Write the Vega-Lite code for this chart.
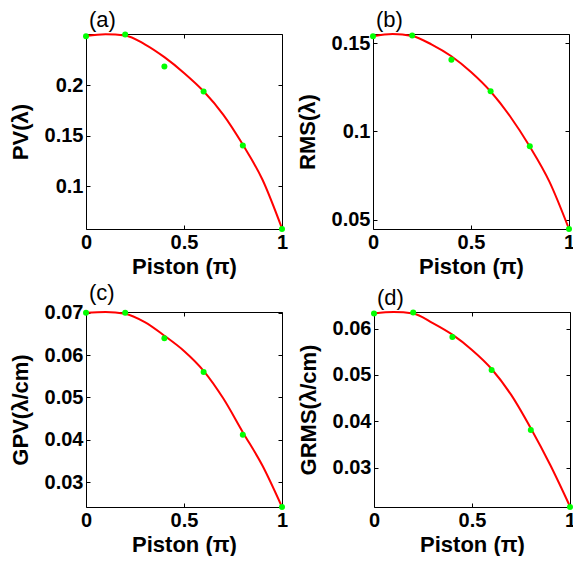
{
  "$schema": "https://vega.github.io/schema/vega-lite/v6.json",
  "padding": {"left": 9, "top": 9, "right": 0, "bottom": 0},
  "background": "white",
  "datasets": {
    "ca": [{"p":0,"v":0.2487},{"p":0.1,"v":0.2505},{"p":0.2,"v":0.2493},{"p":0.3,"v":0.2405},{"p":0.4,"v":0.2278},{"p":0.5,"v":0.2122},{"p":0.6,"v":0.1941},{"p":0.7,"v":0.1711},{"p":0.8,"v":0.1414},{"p":0.9,"v":0.1069},{"p":1,"v":0.0585}],
    "pa": [{"p":0,"v":0.2484},{"p":0.2,"v":0.2503},{"p":0.4,"v":0.2186},{"p":0.6,"v":0.194},{"p":0.8,"v":0.1405},{"p":1,"v":0.058}],
    "cb": [{"p":0,"v":0.1538},{"p":0.1,"v":0.1551},{"p":0.2,"v":0.154},{"p":0.3,"v":0.1491},{"p":0.4,"v":0.1425},{"p":0.5,"v":0.1336},{"p":0.6,"v":0.1226},{"p":0.7,"v":0.1085},{"p":0.8,"v":0.0915},{"p":0.9,"v":0.0717},{"p":1,"v":0.0449}],
    "pb": [{"p":0,"v":0.1538},{"p":0.2,"v":0.1543},{"p":0.4,"v":0.1406},{"p":0.6,"v":0.1228},{"p":0.8,"v":0.0917},{"p":1,"v":0.0449}],
    "cc": [{"p":0,"v":0.07},{"p":0.1,"v":0.0702},{"p":0.2,"v":0.0698},{"p":0.3,"v":0.0678},{"p":0.4,"v":0.0646},{"p":0.5,"v":0.061},{"p":0.6,"v":0.0563},{"p":0.7,"v":0.0498},{"p":0.8,"v":0.0418},{"p":0.9,"v":0.0339},{"p":1,"v":0.0241}],
    "pc": [{"p":0,"v":0.07},{"p":0.2,"v":0.07},{"p":0.4,"v":0.064},{"p":0.6,"v":0.056},{"p":0.8,"v":0.0412},{"p":1,"v":0.0241}],
    "cd": [{"p":0,"v":0.0633},{"p":0.1,"v":0.0636},{"p":0.2,"v":0.0633},{"p":0.3,"v":0.0612},{"p":0.4,"v":0.0587},{"p":0.5,"v":0.0554},{"p":0.6,"v":0.0513},{"p":0.7,"v":0.0457},{"p":0.8,"v":0.0385},{"p":0.9,"v":0.0305},{"p":1,"v":0.0216}],
    "pd": [{"p":0,"v":0.0633},{"p":0.2,"v":0.0635},{"p":0.4,"v":0.0582},{"p":0.6,"v":0.0511},{"p":0.8,"v":0.0381},{"p":1,"v":0.0215}]
  },
  "spacing": 3,
  "vconcat": [
    {
      "spacing": 8,
      "hconcat": [
        {
          "width": 196, "height": 195,
          "title": {"text": "(a)"},
          "layer": [
            {"data": {"name": "ca"}, "mark": {"type": "line", "color": "#ff0000", "strokeWidth": 2, "interpolate": "monotone"},
             "encoding": {
               "x": {"field": "p", "type": "quantitative", "scale": {"domain": [0, 1], "nice": false, "zero": false}, "axis": {"orient": "bottom", "values": [0, 0.5, 1], "format": ".1~f", "title": "Piston (π)"}},
               "y": {"field": "v", "type": "quantitative", "scale": {"domain": [0.058, 0.2507], "nice": false, "zero": false}, "axis": {"orient": "left", "values": [0.1, 0.15, 0.2], "format": ".2~f", "title": "PV(λ)"}}}},
            {"data": {"name": "pa"}, "mark": {"type": "point", "filled": true, "color": "#00ff00", "size": 36, "opacity": 1},
             "encoding": {
               "x": {"field": "p", "type": "quantitative", "axis": {"orient": "top", "values": [0, 0.5, 1], "labels": false, "title": null}},
               "y": {"field": "v", "type": "quantitative", "axis": {"orient": "right", "values": [0.1, 0.15, 0.2], "labels": false, "title": null}}}}
          ],
          "resolve": {"axis": {"x": "independent", "y": "independent"}}
        },
        {
          "width": 196, "height": 195,
          "title": {"text": "(b)"},
          "layer": [
            {"data": {"name": "cb"}, "mark": {"type": "line", "color": "#ff0000", "strokeWidth": 2, "interpolate": "monotone"},
             "encoding": {
               "x": {"field": "p", "type": "quantitative", "scale": {"domain": [0, 1], "nice": false, "zero": false}, "axis": {"orient": "bottom", "values": [0, 0.5, 1], "format": ".1~f", "title": "Piston (π)"}},
               "y": {"field": "v", "type": "quantitative", "scale": {"domain": [0.0449, 0.1551], "nice": false, "zero": false}, "axis": {"orient": "left", "values": [0.05, 0.1, 0.15], "format": ".2~f", "title": "RMS(λ)"}}}},
            {"data": {"name": "pb"}, "mark": {"type": "point", "filled": true, "color": "#00ff00", "size": 36, "opacity": 1},
             "encoding": {
               "x": {"field": "p", "type": "quantitative", "axis": {"orient": "top", "values": [0, 0.5, 1], "labels": false, "title": null}},
               "y": {"field": "v", "type": "quantitative", "axis": {"orient": "right", "values": [0.05, 0.1, 0.15], "labels": false, "title": null}}}}
          ],
          "resolve": {"axis": {"x": "independent", "y": "independent"}}
        }
      ]
    },
    {
      "spacing": 8,
      "hconcat": [
        {
          "width": 196, "height": 195,
          "title": {"text": "(c)"},
          "layer": [
            {"data": {"name": "cc"}, "mark": {"type": "line", "color": "#ff0000", "strokeWidth": 2, "interpolate": "monotone"},
             "encoding": {
               "x": {"field": "p", "type": "quantitative", "scale": {"domain": [0, 1], "nice": false, "zero": false}, "axis": {"orient": "bottom", "values": [0, 0.5, 1], "format": ".1~f", "title": "Piston (π)"}},
               "y": {"field": "v", "type": "quantitative", "scale": {"domain": [0.0241, 0.0702], "nice": false, "zero": false}, "axis": {"orient": "left", "values": [0.03, 0.04, 0.05, 0.06, 0.07], "format": ".2f", "title": "GPV(λ/cm)"}}}},
            {"data": {"name": "pc"}, "mark": {"type": "point", "filled": true, "color": "#00ff00", "size": 36, "opacity": 1},
             "encoding": {
               "x": {"field": "p", "type": "quantitative", "axis": {"orient": "top", "values": [0, 0.5, 1], "labels": false, "title": null}},
               "y": {"field": "v", "type": "quantitative", "axis": {"orient": "right", "values": [0.03, 0.04, 0.05, 0.06, 0.07], "labels": false, "title": null}}}}
          ],
          "resolve": {"axis": {"x": "independent", "y": "independent"}}
        },
        {
          "width": 196, "height": 195,
          "title": {"text": "(d)"},
          "layer": [
            {"data": {"name": "cd"}, "mark": {"type": "line", "color": "#ff0000", "strokeWidth": 2, "interpolate": "monotone"},
             "encoding": {
               "x": {"field": "p", "type": "quantitative", "scale": {"domain": [0, 1], "nice": false, "zero": false}, "axis": {"orient": "bottom", "values": [0, 0.5, 1], "format": ".1~f", "title": "Piston (π)"}},
               "y": {"field": "v", "type": "quantitative", "scale": {"domain": [0.0215, 0.0636], "nice": false, "zero": false}, "axis": {"orient": "left", "values": [0.03, 0.04, 0.05, 0.06], "format": ".2f", "title": "GRMS(λ/cm)"}}}},
            {"data": {"name": "pd"}, "mark": {"type": "point", "filled": true, "color": "#00ff00", "size": 36, "opacity": 1},
             "encoding": {
               "x": {"field": "p", "type": "quantitative", "axis": {"orient": "top", "values": [0, 0.5, 1], "labels": false, "title": null}},
               "y": {"field": "v", "type": "quantitative", "axis": {"orient": "right", "values": [0.03, 0.04, 0.05, 0.06], "labels": false, "title": null}}}}
          ],
          "resolve": {"axis": {"x": "independent", "y": "independent"}}
        }
      ]
    }
  ],
  "config": {
    "font": "Liberation Sans",
    "view": {"stroke": null},
    "axis": {
      "grid": false, "domainColor": "#000000", "domainWidth": 1, "tickColor": "#000000", "tickSize": -4, "tickWidth": 1,
      "labelFont": "Liberation Sans", "labelFontSize": 20, "labelFontWeight": "bold", "labelColor": "#000000", "labelFlush": false, "labelOverlap": false,
      "titleFont": "Liberation Sans", "titleFontSize": 22, "titleFontWeight": "bold", "titleColor": "#000000"
    },
    "axisBottom": {"labelPadding": 7, "titleY": 44.5, "titleBaseline": "alphabetic"},
    "axisLeft": {"labelPadding": 7, "titleX": -59, "titleBaseline": "alphabetic"},
    "title": {"anchor": "start", "frame": "group", "dx": 3, "offset": -2, "baseline": "alphabetic", "fontSize": 22, "fontWeight": "normal", "font": "Liberation Sans", "color": "#000000"}
  }
}
